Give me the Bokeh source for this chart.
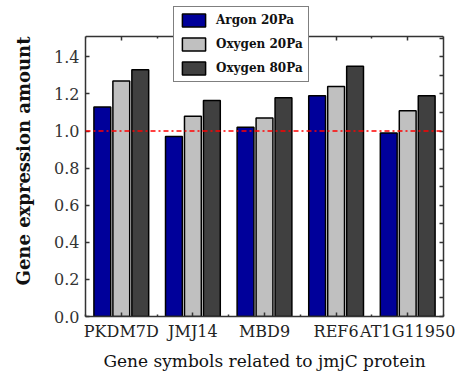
from bokeh.plotting import figure
from bokeh.models import (Range1d, LinearAxis, FixedTicker, Span, Legend, LegendItem,
                          CustomJSTickFormatter)
from bokeh.embed import file_html
from bokeh.resources import INLINE
import numpy as np

genes = ["PKDM7D", "JMJ14", "MBD9", "REF6", "AT1G11950"]
argon_20 = [1.13, 0.97, 1.02, 1.19, 0.99]
oxygen_20 = [1.27, 1.08, 1.07, 1.24, 1.11]
oxygen_80 = [1.33, 1.165, 1.18, 1.35, 1.19]
series_names = ["Argon 20Pa", "Oxygen 20Pa", "Oxygen 80Pa"]
series_colors = ["#00009a", "#c0c0c0", "#404040"]
reference_level = 1.0
y_top = 1.51
y_ticks = [0.0, 0.2, 0.4, 0.6, 0.8, 1.0, 1.2, 1.4]
y_fine_ticks = [0.0, 0.1, 0.2, 0.3, 0.4, 0.5, 0.6, 0.7, 0.8, 0.9, 1.0, 1.1, 1.2, 1.3, 1.4, 1.5]

FONT = "DejaVu Serif"
AX = "#333333"

centers = np.arange(len(genes)) + 0.5
bounds = np.arange(len(genes) + 1).tolist()

# frame extends above the drawn box so that the legend (which sits over the
# top edge in the reference) is not clipped
p = figure(width=457, height=373, output_backend="svg", toolbar_location=None,
           x_range=Range1d(0, len(genes)), y_range=Range1d(0, 1.677),
           min_border_left=85, min_border_right=14, min_border_top=5, min_border_bottom=57)
p.xgrid.visible = False
p.ygrid.visible = False
p.outline_line_color = None
p.background_fill_color = "white"
p.border_fill_color = "white"

offsets = [-0.265, 0.0, 0.265]
renderers = []
for vals, off, col in zip([argon_20, oxygen_20, oxygen_80], offsets, series_colors):
    r = p.vbar(x=centers + off, top=vals, width=0.235, bottom=0,
               fill_color=col, line_color="black", line_width=1.5)
    renderers.append(r)

p.add_layout(Span(location=reference_level, dimension="width", line_color="red",
                  line_dash="5 3 2 3", line_width=1.5))

def style(ax):
    ax.axis_line_color = AX
    ax.axis_line_width = 1.5
    ax.major_tick_line_color = AX
    ax.minor_tick_line_color = AX
    ax.major_tick_line_width = 1.5
    ax.minor_tick_line_width = 1.5
    ax.major_tick_in = 4
    ax.major_tick_out = 0
    ax.minor_tick_in = 2
    ax.minor_tick_out = 0

# left axis
la = p.yaxis[0]
la.ticker = FixedTicker(ticks=y_ticks, minor_ticks=[])
la.formatter = CustomJSTickFormatter(code="return tick.toFixed(1);")
la.bounds = (0, y_top)
style(la)
la.major_label_text_font = FONT
la.major_label_text_font_size = "16px"
la.major_label_text_color = "#333333"
la.major_label_standoff = 6
la.axis_label = "Gene expression amount"
la.axis_label_text_font = FONT
la.axis_label_text_font_style = "bold"
la.axis_label_text_font_size = "18px"
la.axis_label_text_color = "#111111"
la.axis_label_standoff = 17

# bottom axis
ba = p.xaxis[0]
ba.ticker = FixedTicker(ticks=centers.tolist(), minor_ticks=bounds)
style(ba)
ba.major_label_overrides = {float(c): g for c, g in zip(centers, genes)}
ba.major_label_text_font = FONT
ba.major_label_text_font_size = "16px"
ba.major_label_text_color = "#222222"
ba.major_label_standoff = 5
ba.axis_label = "Gene symbols related to jmjC protein"
ba.axis_label_text_font = FONT
ba.axis_label_text_font_style = "normal"
ba.axis_label_text_font_size = "17px"
ba.axis_label_text_color = "#111111"
ba.axis_label_standoff = 7

# right axis (ticks only)
ra = LinearAxis(ticker=FixedTicker(ticks=y_fine_ticks, minor_ticks=[]), bounds=(0, y_top))
style(ra)
ra.major_label_text_font_size = "6px"
ra.major_label_text_alpha = 0
ra.major_label_standoff = 0
p.add_layout(ra, "right")

# top edge of the box (ticks only), pinned at y_top
ta = LinearAxis(ticker=FixedTicker(ticks=centers.tolist(), minor_ticks=bounds),
                fixed_location=y_top)
style(ta)
ta.major_label_text_font_size = "1px"
ta.major_label_text_alpha = 0
ta.major_label_standoff = 0
p.add_layout(ta, "above")

legend = Legend(items=[LegendItem(label=n, renderers=[r]) for n, r in zip(series_names, renderers)],
                location=(88, 234))
legend.glyph_width = 29
legend.glyph_height = 16
legend.label_height = 16
legend.label_standoff = 8
legend.spacing = 8
legend.padding = 5
legend.margin = 0
legend.border_line_color = "black"
legend.border_line_width = 1.5
legend.background_fill_color = "white"
legend.background_fill_alpha = 1
legend.label_text_font = FONT
legend.label_text_font_style = "bold"
legend.label_text_font_size = "12px"
legend.label_text_color = "#111111"
p.add_layout(legend, "center")

open("out.html", "w").write(file_html(p, INLINE))
